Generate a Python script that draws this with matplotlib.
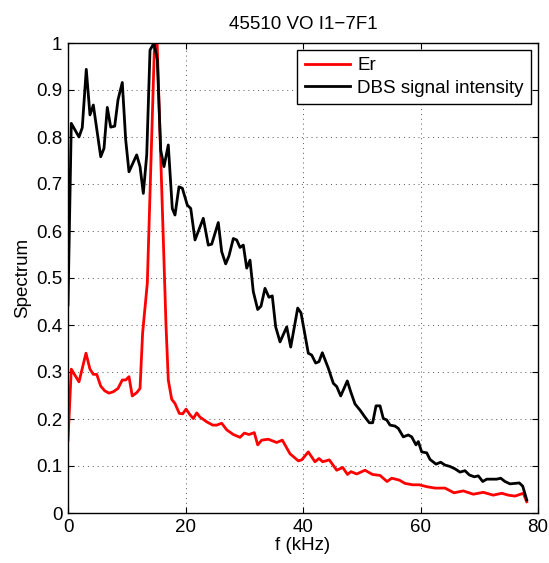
import matplotlib
matplotlib.use('Agg')
import matplotlib.pyplot as plt
from matplotlib.ticker import FixedLocator, FuncFormatter

plt.rcParams['font.family'] = ['Liberation Sans', 'DejaVu Sans']

# DBS signal intensity (black)
f_dbs = [0.0, 0.56, 1.87, 2.43, 3.11, 3.74, 4.31, 5.57, 6.13, 6.69, 7.27, 7.95,
         8.51, 9.24, 9.82, 10.38, 11.69, 12.26, 12.82, 13.40, 13.96, 14.64, 15.20,
         15.78, 16.34, 17.07, 17.75, 18.21, 18.89, 19.46, 20.31, 20.89, 21.62,
         23.03, 23.88, 24.46, 25.58, 26.16, 26.84, 27.40, 28.14, 28.71, 29.28,
         29.84, 30.42, 30.98, 31.54, 32.29, 32.85, 33.53, 34.21, 34.77, 35.35,
         36.09, 37.23, 37.91, 39.10, 39.66, 40.90, 41.48, 42.16, 42.72, 43.29,
         44.31, 44.60, 45.16, 45.74, 46.42, 47.54, 48.12, 48.85, 49.70, 50.55,
         51.29, 51.86, 52.43, 53.11, 53.67, 54.25, 54.81, 55.66, 56.22, 57.07,
         57.92, 58.50, 59.23, 59.63, 60.20, 61.06, 61.62, 62.64, 63.44, 64.17,
         65.02, 65.87, 66.72, 67.57, 68.31, 69.16, 69.84, 70.59, 71.27, 72.12,
         72.97, 73.65, 74.38, 75.23, 76.09, 76.82, 77.40, 78.08]
dbs = [0.443, 0.829, 0.800, 0.820, 0.944, 0.847, 0.868, 0.758, 0.776, 0.863, 0.821, 0.823,
       0.879, 0.916, 0.794, 0.726, 0.762, 0.737, 0.680, 0.762, 0.985, 1.000, 0.964,
       0.772, 0.737, 0.783, 0.648, 0.634, 0.694, 0.691, 0.655, 0.648, 0.581,
       0.627, 0.570, 0.572, 0.618, 0.556, 0.530, 0.547, 0.584, 0.581, 0.565,
       0.570, 0.521, 0.538, 0.471, 0.433, 0.440, 0.478, 0.459, 0.462, 0.396,
       0.364, 0.396, 0.353, 0.436, 0.426, 0.340, 0.336, 0.319, 0.322, 0.341,
       0.308, 0.297, 0.276, 0.269, 0.249, 0.281, 0.258, 0.232, 0.219, 0.204,
       0.192, 0.192, 0.228, 0.228, 0.201, 0.198, 0.187, 0.185, 0.180, 0.162,
       0.166, 0.162, 0.145, 0.152, 0.130, 0.128, 0.114, 0.104, 0.108, 0.102,
       0.099, 0.094, 0.087, 0.090, 0.081, 0.077, 0.079, 0.067, 0.072, 0.072,
       0.072, 0.074, 0.067, 0.062, 0.063, 0.064, 0.057, 0.028]

# Er (red)
f_er = [0.0, 0.56, 1.87, 3.06, 3.74, 4.31, 4.89, 5.57, 6.25, 6.98, 7.71, 8.51,
        9.24, 9.82, 10.38, 10.94, 11.69, 12.26, 12.70, 13.50, 14.80, 15.10, 16.68,
        17.07, 17.65, 18.21, 18.94, 19.52, 20.09, 20.77, 21.33, 21.91, 22.47,
        23.61, 24.63, 25.31, 26.16, 27.01, 28.14, 29.28, 30.01, 30.81, 31.71,
        32.29, 32.97, 34.09, 35.52, 36.48, 37.79, 39.20, 39.78, 40.90, 42.04,
        42.72, 43.35, 44.48, 45.74, 46.76, 47.57, 48.17, 49.14, 50.55, 51.83,
        53.11, 54.30, 55.10, 56.39, 57.36, 58.67, 59.80, 61.06, 62.47, 64.17,
        65.70, 67.29, 68.99, 70.69, 72.39, 73.82, 74.94, 76.09, 77.50, 78.08]
er = [0.155, 0.306, 0.279, 0.340, 0.306, 0.295, 0.295, 0.270, 0.260, 0.255, 0.258, 0.265,
      0.283, 0.283, 0.290, 0.249, 0.256, 0.265, 0.383, 0.489, 1.030, 1.030, 0.400,
      0.283, 0.242, 0.233, 0.212, 0.211, 0.221, 0.209, 0.201, 0.213, 0.204,
      0.194, 0.187, 0.187, 0.191, 0.177, 0.167, 0.161, 0.170, 0.167, 0.171,
      0.145, 0.155, 0.157, 0.150, 0.155, 0.126, 0.111, 0.113, 0.130, 0.109,
      0.116, 0.109, 0.113, 0.091, 0.097, 0.082, 0.088, 0.083, 0.091, 0.082,
      0.080, 0.067, 0.074, 0.070, 0.063, 0.060, 0.060, 0.056, 0.053, 0.053,
      0.043, 0.047, 0.040, 0.044, 0.038, 0.042, 0.038, 0.036, 0.042, 0.024]

x_ticks = [0, 20, 40, 60, 80]
y_ticks = [0, 0.1, 0.2, 0.3, 0.4, 0.5, 0.6, 0.7, 0.8, 0.9, 1]

fs = 13.5

fig = plt.figure(figsize=(5.49, 5.63), dpi=100)
ax = fig.add_axes([68/549, 1-513/563, 470/549, 470/563])

ax.plot(f_er, er, color='red', lw=2, label='Er')
ax.plot(f_dbs, dbs, color='black', lw=2, label='DBS signal intensity')

ax.set_xlim(0, 80)
ax.set_ylim(0, 1)
ax.xaxis.set_major_locator(FixedLocator(x_ticks))
ax.yaxis.set_major_locator(FixedLocator(y_ticks))
ax.yaxis.set_major_formatter(FuncFormatter(lambda v, p: '%g' % v))
ax.tick_params(direction='in', top=True, right=True, length=4, width=0.8,
               labelsize=fs, pad=4)
ax.grid(True, linestyle=(0, (1, 4)), color='#555555', linewidth=0.7)
for s in ax.spines.values():
    s.set_linewidth(1.0)

ax.set_xlabel('f (kHz)', fontsize=fs, labelpad=1)
ax.set_ylabel('Spectrum', fontsize=fs, labelpad=4)
ax.set_title('45510 VO I1\u22127F1', fontsize=fs, pad=10)

leg = ax.legend(loc='upper right', fontsize=fs, fancybox=False, framealpha=1,
                edgecolor='black', borderaxespad=0.35, handlelength=2.4,
                handletextpad=0.4, labelspacing=0.3, borderpad=0.4)
leg.get_frame().set_linewidth(1.0)

fig.savefig('out.png', dpi=100)
